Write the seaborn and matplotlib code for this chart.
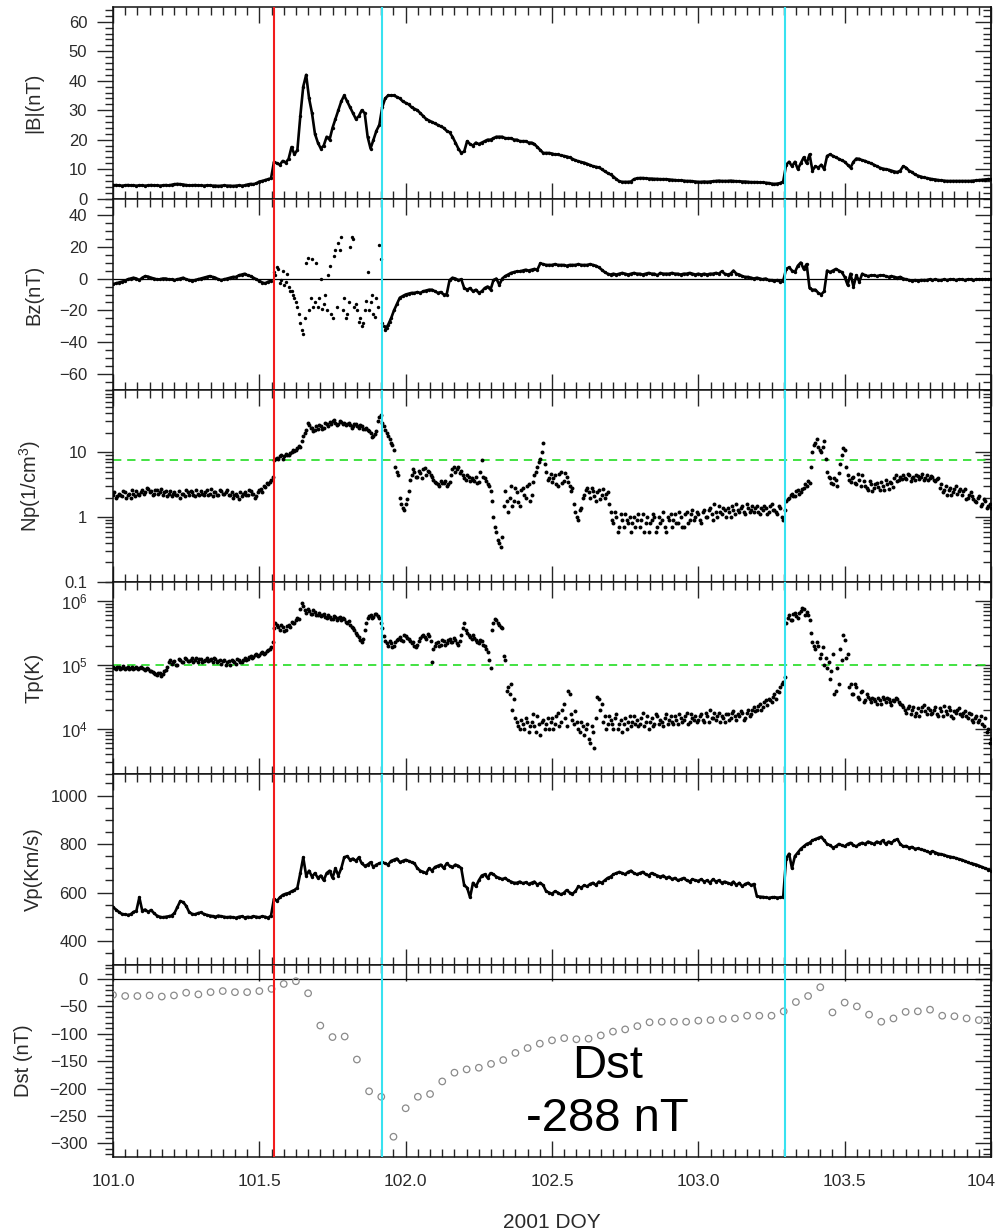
import numpy as np
import pandas as pd
import matplotlib
matplotlib.use("Agg")
import matplotlib.pyplot as plt
from matplotlib.ticker import (MultipleLocator, FixedLocator, NullFormatter,
                               FixedFormatter)
from matplotlib.transforms import ScaledTranslation
import seaborn as sns

# ---------------------------------------------------------------------------
# Solar-wind and geomagnetic data, 2001 DOY 101-104
# Main samples every 0.01 day; the noisy plasma moments also have
# intermediate samples at the half steps.
# ---------------------------------------------------------------------------
doy = np.linspace(101.0, 104.0, 301)
doy_half = np.linspace(101.005, 103.995, 300)

b_mag = [
    4.5, 4.6, 4.5, 4.4, 4.5, 4.6, 4.5, 4.5, 4.4, 4.5,
    4.5, 4.4, 4.5, 4.6, 4.5, 4.5, 4.4, 4.5, 4.6, 4.5,
    4.7, 4.9, 5.0, 4.9, 4.8, 4.6, 4.5, 4.5, 4.6, 4.5,
    4.5, 4.4, 4.5, 4.5, 4.4, 4.4, 4.3, 4.4, 4.5, 4.4,
    4.4, 4.3, 4.4, 4.5, 4.4, 4.5, 4.8, 5.0, 4.9, 5.2,
    5.8, 6.0, 6.3, 6.6, 6.9, 12.5, 12.0, 11.5, 12.8, 12.2,
    13.5, 17.5, 15.0, 16.5, 28.0, 38.0, 42.0, 34.0, 29.0, 22.0,
    19.0, 17.0, 18.0, 21.0, 20.0, 24.0, 27.0, 30.0, 33.0, 35.0,
    33.0, 31.0, 29.0, 27.0, 28.0, 30.0, 29.0, 21.0, 17.0, 20.0,
    23.0, 25.0, 31.0, 34.0, 35.0, 35.0, 35.0, 34.5, 34.0, 33.0,
    32.5, 32.0, 31.0, 30.5, 30.0, 29.0, 28.0, 27.0, 26.5, 26.0,
    25.5, 25.0, 24.5, 24.0, 23.0, 22.5, 21.0, 19.0, 17.0, 15.5,
    16.0, 19.5, 18.5, 18.0, 19.0, 18.5, 19.0, 19.5, 20.0, 20.0,
    20.5, 21.0, 21.0, 21.0, 20.5, 20.5, 20.5, 20.0, 20.0, 19.5,
    19.5, 19.5, 19.0, 19.0, 18.5, 17.5, 16.5, 15.5, 15.5, 15.5,
    15.3, 15.0, 15.0, 14.7, 14.5, 14.3, 14.0, 13.5, 13.0, 12.7,
    12.4, 12.2, 11.8, 11.4, 11.0, 10.8, 10.6, 10.0, 9.3, 8.7,
    8.2, 7.5, 6.6, 5.9, 5.7, 5.7, 5.7, 5.8, 6.6, 6.9,
    7.0, 7.0, 6.9, 6.8, 6.8, 6.7, 6.7, 6.6, 6.6, 6.6,
    6.5, 6.4, 6.3, 6.2, 6.2, 6.1, 6.0, 6.0, 5.9, 5.8,
    5.7, 5.7, 5.8, 5.7, 5.8, 5.9, 6.0, 6.1, 6.0, 6.0,
    6.0, 6.1, 6.0, 5.9, 5.9, 5.8, 5.8, 5.7, 5.6, 5.6,
    5.6, 5.5, 5.5, 5.4, 5.3, 5.1, 5.0, 5.1, 5.3, 5.8,
    11.5, 12.5, 11.0, 12.5, 10.0, 12.0, 14.0, 12.0, 15.0, 9.5,
    11.0, 10.5, 11.5, 10.0, 14.5, 15.0, 14.5, 14.0, 13.5, 13.0,
    12.5, 11.5, 10.5, 12.5, 13.6, 13.5, 13.0, 12.8, 12.3, 12.0,
    11.5, 11.0, 10.5, 10.2, 10.0, 9.8, 9.5, 9.2, 9.0, 9.5,
    11.0, 10.5, 9.5, 9.0, 8.2, 7.8, 7.5, 7.2, 7.0, 6.8,
    6.6, 6.5, 6.3, 6.2, 6.1, 6.0, 6.0, 6.0, 6.0, 6.0,
    6.0, 6.0, 6.0, 6.0, 6.1, 6.2, 6.3, 6.4, 6.5, 6.6, 6.6,
]

bz = [
    -3.5, -3.0, -2.5, -2.0, -1.5, -0.5, 0.0, 0.5, 0.0, -1.0,
    0.5, 1.5, 1.2, 0.5, 0.0, -0.5, -0.5, 0.0, 0.0, -0.5,
    -0.5, -1.0, -0.5, 0.0, 0.5, -0.5, -1.0, -1.5, -1.0, -0.5,
    0.0, 0.5, 1.0, 1.5, 1.0, 0.5, -0.5, -1.0, -0.5, 0.0,
    0.5, 1.0, 1.0, 2.0, 2.5, 3.0, 2.0, 1.5, 0.5, -0.5,
    -1.5, -2.5, -3.0, -2.0, -1.5, 4.0, 7.0, -3.0, 5.0, -2.0,
    -5.0, -8.0, -12.0, -18.0, -28.0, -35.0, 10.0, -20.0, 12.0, -15.0,
    -18.0, 0.0, -16.0, -20.0, 8.0, -25.0, 18.0, 22.0, 26.0, -12.0,
    -22.0, 20.0, 25.0, -16.0, -27.0, -30.0, -20.0, 4.0, -15.0, -22.0,
    -12.0, 21.0, -28.0, -32.0, -29.0, -25.0, -20.0, -16.0, -12.0, -11.0,
    -10.0, -9.5, -9.0, -9.0, -8.5, -9.0, -8.0, -7.5, -7.0, -7.0,
    -8.0, -9.0, -8.5, -10.0, -10.0, -1.0, 0.5, 0.0, -1.0, -0.5,
    -6.0, -7.0, -6.0, -8.0, -7.0, -9.0, -8.0, -6.0, -5.0, -7.0,
    -1.0, 0.0, -4.0, 0.0, 1.5, 2.5, 3.5, 4.0, 4.5, 4.5,
    5.0, 5.5, 5.0, 5.5, 6.0, 5.5, 9.5, 9.0, 8.5, 8.5,
    8.5, 9.0, 8.5, 8.5, 8.5, 8.0, 8.5, 8.5, 8.5, 9.0,
    8.5, 8.5, 8.5, 9.0, 8.5, 8.0, 7.0, 5.5, 4.0, 3.0,
    2.5, 3.0, 2.5, 3.0, 3.5, 3.0, 2.5, 3.0, 3.5, 3.0,
    3.0, 2.5, 3.0, 3.5, 3.0, 3.0, 2.0, 3.5, 3.0, 3.0,
    3.0, 3.5, 3.0, 3.0, 2.5, 3.0, 3.0, 3.5, 3.0, 2.5,
    3.0, 2.5, 3.0, 2.5, 3.0, 3.0, 3.5, 3.0, 4.5, 3.0,
    2.5, 3.0, 5.0, 3.0, 2.5, 1.5, 1.0, 1.0, 0.5, 0.0,
    0.5, 0.0, -0.5, 0.0, -1.0, -1.0, -1.5, -1.0, -2.0, -1.5,
    6.0, 7.0, 5.0, 4.0, 8.0, 10.0, 6.0, 9.0, -6.0, -7.0,
    -7.0, -9.0, -10.0, -8.0, 5.0, 4.0, 5.0, 6.0, 5.0, 4.0,
    1.0, -4.0, 3.0, -5.0, 2.0, -2.0, 3.0, 2.0, 1.5, 2.0,
    2.0, 1.5, 2.0, 2.0, 1.5, 1.0, 1.5, 1.0, 0.5, 1.0,
    0.0, -0.5, -1.0, -1.5, -1.0, -1.5, -1.0, -1.0, -1.0, -0.5,
    -1.0, -0.5, -1.0, -1.0, -0.5, -1.0, -0.5, -0.5, -1.0, -0.5,
    -0.5, -1.0, -0.5, -0.5, -1.0, -0.5, -0.5, -0.5, -0.5, -0.5, -0.5,
]

# Extra Bz samples inside the sheath (half steps, 101.555-101.945)
bz_sheath_doy = np.linspace(101.555, 101.945, 40)
bz_sheath = [
    2.0, 6.0, -1.0, -4.0, 3.0,
    -8.0, -10.0, -15.0, -22.0, -32.0, -25.0, 13.0, -12.0, -18.0, 10.0,
    -12.0, -19.0, -10.0, 2.0, -22.0, 14.0, -18.0, 18.0, -20.0, -25.0,
    -15.0, 26.0, -18.0, -20.0, -25.0, -28.0, -14.0, -20.0, -10.0, -24.0,
    -18.0, 12.0, -30.0, -31.0, -27.0,
]

np_density = [
    2.2, 2.0, 2.3, 2.1, 2.4, 2.2, 2.0, 2.3, 2.5, 2.2,
    2.6, 2.4, 2.7, 2.5, 2.3, 2.6, 2.4, 2.2, 2.5, 2.3,
    2.1, 2.4, 2.2, 2.0, 2.3, 2.6, 2.2, 2.4, 2.1, 2.3,
    2.5, 2.2, 2.6, 2.3, 2.1, 2.4, 2.2, 2.5, 2.3, 2.6,
    2.2, 2.0, 2.3, 1.9, 2.1, 2.4, 2.2, 2.5, 2.3, 2.1,
    2.6, 2.4, 2.9, 3.2, 3.8, 7.5, 8.2, 8.8, 8.0, 9.5,
    9.0, 10.0, 10.5, 11.5, 12.0, 18.0, 22.0, 26.0, 24.0, 22.0,
    23.0, 25.0, 24.0, 27.0, 29.0, 30.0, 28.0, 27.0, 29.0, 28.0,
    27.0, 26.0, 25.0, 27.0, 24.0, 25.0, 23.0, 22.0, 20.0, 18.0,
    21.0, 35.0, 28.0, 22.0, 18.0, 14.0, 11.0, 5.0, 2.0, 1.4,
    1.6, 2.5, 4.5, 5.0, 4.2, 4.8, 5.5, 4.5, 5.0, 4.2,
    3.5, 3.2, 3.6, 3.4, 3.0, 3.5, 5.5, 5.0, 6.0, 5.2,
    4.0, 4.5, 3.6, 3.8, 4.2, 3.5, 7.5, 4.0, 3.2, 2.5,
    1.0, 0.6, 0.4, 0.5, 2.5, 1.2, 3.0, 1.8, 2.4, 1.5,
    2.8, 2.0, 3.2, 2.2, 4.5, 6.0, 8.0, 14.0, 5.0, 4.0,
    3.5, 4.5, 3.0, 5.0, 3.6, 4.2, 3.0, 2.8, 1.2, 0.9,
    1.4, 2.2, 2.8, 2.0, 2.5, 1.8, 2.6, 2.2, 2.0, 2.4,
    1.2, 0.8, 1.0, 0.7, 0.9, 1.1, 0.8, 0.6, 1.0, 0.9,
    0.7, 1.1, 0.8, 0.6, 0.9, 1.0, 0.7, 0.8, 1.2, 0.6,
    0.9, 0.7, 1.1, 0.8, 1.0, 0.7, 1.2, 0.9, 1.3, 1.0,
    1.1, 0.8, 1.3, 1.0, 1.4, 0.9, 1.2, 1.5, 1.1, 1.3,
    1.4, 1.0, 1.3, 1.6, 1.2, 1.5, 1.1, 1.4, 1.3, 1.2,
    1.5, 1.1, 1.3, 1.4, 1.2, 1.6, 1.3, 1.1, 1.4, 0.9,
    1.8, 2.0, 2.3, 2.1, 2.6, 2.4, 2.8, 3.0, 3.4, 10.0,
    14.0, 12.0, 10.0, 15.0, 5.0, 4.0, 3.2, 3.8, 4.8, 9.0,
    11.0, 4.5, 3.5, 4.2, 3.2, 3.8, 4.5, 3.0, 2.6, 3.2,
    2.8, 3.4, 2.6, 3.0, 3.8, 2.7, 3.3, 4.0, 3.6, 4.2,
    4.4, 3.9, 4.5, 4.0, 3.8, 4.3, 4.1, 3.7, 4.4, 4.0,
    4.2, 3.6, 4.0, 3.2, 2.6, 2.2, 2.8, 2.4, 3.0, 2.5,
    2.2, 2.7, 2.0, 2.4, 1.9, 1.7, 2.1, 1.6, 1.8, 1.5, 1.4,
]

np_density_half = [
    2.4, 2.1, 2.2, 2.5, 2.0, 2.3, 2.6, 2.1, 2.3, 2.4,
    2.3, 2.8, 2.4, 2.2, 2.6, 2.3, 2.7, 2.4, 2.1, 2.5,
    2.3, 2.2, 2.5, 2.3, 2.1, 2.4, 2.5, 2.2, 2.6, 2.2,
    2.3, 2.4, 2.2, 2.7, 2.4, 2.2, 2.6, 2.3, 2.4, 2.2,
    2.4, 2.2, 2.1, 2.4, 2.3, 2.2, 2.6, 2.3, 2.0, 2.4,
    2.7, 3.0, 3.4, 3.5, 4.2, 8.0, 7.8, 9.2, 8.6, 9.0,
    9.8, 10.8, 11.0, 12.5, 15.0, 20.0, 28.0, 24.0, 21.0, 25.0,
    26.0, 23.0, 28.0, 25.0, 27.0, 31.0, 26.0, 30.0, 27.0, 26.0,
    28.0, 24.0, 27.0, 25.0, 26.0, 23.0, 24.0, 21.0, 17.0, 19.0,
    30.0, 38.0, 25.0, 20.0, 16.0, 13.0, 6.0, 4.5, 1.6, 1.3,
    1.9, 3.8, 5.5, 4.2, 5.2, 4.0, 5.8, 5.2, 4.4, 3.8,
    3.4, 3.0, 3.3, 3.6, 3.2, 4.5, 6.0, 5.5, 4.8, 4.4,
    3.8, 4.2, 4.0, 3.6, 3.4, 5.0, 4.2, 3.6, 3.0, 1.8,
    0.7, 0.45, 0.35, 1.5, 1.8, 2.0, 1.5, 2.8, 1.7, 2.6,
    2.2, 3.0, 1.8, 3.5, 5.0, 7.0, 10.0, 6.5, 3.8, 4.6,
    4.0, 3.2, 4.6, 3.4, 4.8, 3.5, 2.5, 1.6, 1.0, 1.3,
    2.0, 2.6, 2.4, 2.8, 2.1, 2.4, 1.9, 2.7, 2.3, 1.6,
    0.9, 1.2, 0.6, 1.1, 0.7, 0.9, 1.0, 0.8, 0.7, 1.1,
    0.9, 0.6, 1.0, 0.8, 1.1, 0.6, 1.0, 0.9, 0.7, 1.0,
    1.1, 0.9, 0.8, 1.2, 0.7, 1.1, 0.8, 1.1, 0.9, 1.2,
    0.9, 1.2, 1.0, 1.3, 1.1, 1.6, 1.0, 1.2, 1.4, 1.0,
    1.2, 1.5, 1.1, 1.3, 1.4, 1.2, 1.6, 1.2, 1.5, 1.4,
    1.2, 1.4, 1.5, 1.1, 1.5, 1.3, 1.2, 1.5, 1.0, 1.3,
    1.9, 2.2, 2.1, 2.5, 2.3, 2.7, 3.2, 3.6, 6.0, 13.0,
    16.0, 11.0, 12.0, 8.0, 4.2, 3.4, 4.0, 3.0, 6.5, 11.5,
    6.0, 3.8, 4.0, 3.4, 4.6, 3.0, 3.6, 2.8, 3.6, 2.5,
    3.2, 2.9, 3.5, 2.6, 3.2, 3.5, 2.9, 4.4, 3.8, 3.9,
    4.0, 4.6, 3.6, 4.2, 4.4, 3.9, 4.6, 4.0, 3.8, 4.3,
    3.8, 3.9, 2.8, 2.4, 3.0, 2.6, 2.2, 2.7, 2.3, 2.7,
    2.5, 1.9, 2.2, 2.1, 1.8, 2.0, 1.5, 1.9, 1.4, 1.6,
]

tp = [
    9.2e4, 8.8e4, 9.5e4, 9.0e4, 8.6e4, 9.3e4, 9.0e4, 8.7e4, 9.4e4, 8.9e4,
    9.1e4, 8.5e4, 8.8e4, 8.0e4, 7.5e4, 7.0e4, 7.6e4, 7.2e4, 8.5e4, 1.1e5,
    1.05e5, 1.15e5, 1.0e5, 1.2e5, 1.1e5, 1.25e5, 1.15e5, 1.3e5, 1.2e5, 1.1e5,
    1.25e5, 1.15e5, 1.3e5, 1.2e5, 1.1e5, 1.25e5, 1.15e5, 1.05e5, 1.2e5, 1.1e5,
    1.0e5, 1.15e5, 1.05e5, 1.2e5, 1.1e5, 1.3e5, 1.25e5, 1.4e5, 1.35e5, 1.5e5,
    1.45e5, 1.6e5, 1.55e5, 1.7e5, 1.9e5, 3.8e5, 4.2e5, 3.5e5, 4.0e5, 3.6e5,
    4.3e5, 4.8e5, 4.5e5, 5.5e5, 7.5e5, 8.5e5, 6.5e5, 7.0e5, 6.2e5, 6.8e5,
    6.0e5, 5.8e5, 6.3e5, 5.5e5, 5.7e5, 5.2e5, 5.6e5, 5.4e5, 5.0e5, 5.3e5,
    4.6e5, 4.2e5, 3.8e5, 3.2e5, 2.8e5, 2.3e5, 3.5e5, 5.5e5, 6.0e5, 5.7e5,
    6.2e5, 5.5e5, 3.8e5, 2.4e5, 2.0e5, 2.2e5, 2.0e5, 2.5e5, 2.8e5, 2.4e5,
    2.9e5, 2.6e5, 2.2e5, 2.0e5, 2.1e5, 2.7e5, 3.0e5, 2.6e5, 2.9e5, 1.1e5,
    2.0e5, 2.3e5, 2.1e5, 2.4e5, 2.2e5, 2.6e5, 2.3e5, 2.5e5, 2.1e5, 3.0e5,
    4.5e5, 3.2e5, 2.8e5, 3.0e5, 2.5e5, 2.2e5, 2.4e5, 2.0e5, 1.6e5, 0.9e5,
    4.5e5, 5.0e5, 4.2e5, 3.8e5, 1.2e5, 4.5e4, 5.0e4, 3.0e4, 1.3e4, 1.0e4,
    1.2e4, 1.5e4, 0.9e4, 1.3e4, 1.1e4, 1.6e4, 0.8e4, 1.4e4, 1.2e4, 1.0e4,
    1.5e4, 1.2e4, 1.8e4, 1.3e4, 2.5e4, 1.1e4, 3.5e4, 1.4e4, 1.9e4, 1.0e4,
    1.3e4, 0.8e4, 1.2e4, 0.6e4, 0.9e4, 1.5e4, 3.0e4, 2.5e4, 1.6e4, 1.2e4,
    1.4e4, 1.0e4, 1.7e4, 1.2e4, 0.9e4, 1.5e4, 1.3e4, 1.1e4, 1.6e4, 1.4e4,
    1.2e4, 1.8e4, 1.3e4, 1.0e4, 1.5e4, 1.2e4, 1.6e4, 1.4e4, 1.1e4, 1.7e4,
    1.4e4, 1.3e4, 1.6e4, 1.2e4, 1.5e4, 1.4e4, 1.8e4, 1.3e4, 1.5e4, 1.6e4,
    1.4e4, 1.7e4, 1.3e4, 1.6e4, 2.0e4, 1.5e4, 1.4e4, 1.8e4, 1.6e4, 1.3e4,
    1.7e4, 1.5e4, 1.9e4, 1.4e4, 1.6e4, 1.8e4, 1.5e4, 2.0e4, 1.7e4, 2.2e4,
    2.0e4, 2.5e4, 2.2e4, 2.8e4, 3.0e4, 2.6e4, 3.5e4, 4.0e4, 4.5e4, 5.5e4,
    4.5e5, 6.0e5, 5.0e5, 6.5e5, 5.5e5, 7.0e5, 7.5e5, 6.8e5, 5.0e5, 2.3e5,
    1.8e5, 2.0e5, 1.5e5, 1.0e5, 0.9e5, 6.0e4, 1.5e5, 4.0e4, 5.0e4, 1.2e5,
    2.5e5, 1.5e5, 5.0e4, 3.5e4, 4.5e4, 3.0e4, 4.0e4, 2.8e4, 3.2e4, 2.6e4,
    3.0e4, 2.5e4, 2.8e4, 3.2e4, 2.6e4, 2.9e4, 2.4e4, 2.7e4, 3.0e4, 2.5e4,
    2.2e4, 1.8e4, 2.3e4, 2.0e4, 1.6e4, 2.1e4, 1.9e4, 2.4e4, 1.7e4, 2.0e4,
    1.8e4, 2.2e4, 1.6e4, 1.9e4, 2.3e4, 1.7e4, 2.0e4, 1.5e4, 1.8e4, 2.1e4,
    1.6e4, 1.9e4, 1.5e4, 1.7e4, 1.3e4, 1.6e4, 1.4e4, 1.2e4, 1.5e4, 1.0e4, 0.7e4,
]

tp_half = [
    8.9e4, 9.3e4, 8.7e4, 9.6e4, 9.1e4, 8.8e4, 9.4e4, 9.1e4, 8.6e4, 9.2e4,
    8.7e4, 8.9e4, 8.2e4, 7.7e4, 7.2e4, 7.4e4, 6.8e4, 8.0e4, 9.5e4, 1.2e5,
    1.1e5, 1.0e5, 1.25e5, 1.1e5, 1.3e5, 1.15e5, 1.2e5, 1.1e5, 1.3e5, 1.25e5,
    1.1e5, 1.2e5, 1.15e5, 1.25e5, 1.3e5, 1.1e5, 1.2e5, 1.15e5, 1.0e5, 1.15e5,
    1.2e5, 1.1e5, 1.25e5, 1.1e5, 1.2e5, 1.2e5, 1.35e5, 1.3e5, 1.45e5, 1.4e5,
    1.55e5, 1.5e5, 1.65e5, 1.8e5, 2.3e5, 4.5e5, 3.9e5, 4.3e5, 3.4e5, 4.1e5,
    4.0e5, 4.6e5, 5.0e5, 5.2e5, 9.5e5, 7.2e5, 7.5e5, 6.4e5, 7.2e5, 6.0e5,
    6.5e5, 6.1e5, 5.7e5, 6.0e5, 5.3e5, 5.9e5, 5.1e5, 5.7e5, 5.5e5, 4.8e5,
    4.9e5, 4.0e5, 3.5e5, 3.0e5, 2.5e5, 2.6e5, 4.5e5, 5.8e5, 5.5e5, 6.3e5,
    5.9e5, 4.5e5, 2.9e5, 2.2e5, 2.4e5, 1.9e5, 2.3e5, 2.6e5, 2.5e5, 3.0e5,
    2.7e5, 2.4e5, 2.3e5, 1.9e5, 2.4e5, 2.9e5, 2.8e5, 3.1e5, 2.4e5, 1.8e5,
    2.2e5, 2.0e5, 2.5e5, 2.1e5, 2.5e5, 2.3e5, 2.7e5, 2.2e5, 2.4e5, 3.8e5,
    3.6e5, 3.0e5, 2.6e5, 2.7e5, 2.3e5, 2.5e5, 2.1e5, 1.8e5, 1.2e5, 3.5e5,
    5.2e5, 4.6e5, 4.0e5, 1.4e5, 4.0e4, 3.5e4, 2.0e4, 1.5e4, 1.1e4, 1.4e4,
    1.0e4, 1.3e4, 1.1e4, 1.7e4, 0.9e4, 1.2e4, 1.3e4, 1.0e4, 1.5e4, 1.3e4,
    1.0e4, 1.6e4, 1.1e4, 2.0e4, 1.5e4, 4.0e4, 1.7e4, 1.2e4, 1.3e4, 0.9e4,
    1.1e4, 1.0e4, 0.7e4, 1.1e4, 0.5e4, 3.2e4, 2.0e4, 1.3e4, 1.0e4, 1.6e4,
    1.2e4, 1.5e4, 1.0e4, 1.4e4, 1.2e4, 1.0e4, 1.6e4, 1.3e4, 1.2e4, 1.1e4,
    1.5e4, 1.1e4, 1.6e4, 1.3e4, 1.1e4, 1.7e4, 1.2e4, 1.3e4, 1.5e4, 1.2e4,
    1.6e4, 1.2e4, 1.4e4, 1.7e4, 1.3e4, 1.6e4, 1.2e4, 1.7e4, 1.4e4, 1.3e4,
    1.6e4, 1.4e4, 1.8e4, 1.3e4, 1.5e4, 1.8e4, 1.6e4, 1.3e4, 1.5e4, 1.7e4,
    1.4e4, 1.8e4, 1.6e4, 1.7e4, 1.9e4, 1.4e4, 1.8e4, 1.6e4, 2.0e4, 1.9e4,
    2.3e4, 2.0e4, 2.6e4, 2.4e4, 2.8e4, 3.2e4, 3.0e4, 3.8e4, 5.0e4, 6.5e4,
    5.5e5, 5.0e5, 6.2e5, 5.8e5, 6.5e5, 7.8e5, 6.0e5, 6.0e5, 3.2e5, 2.0e5,
    2.3e5, 1.3e5, 1.9e5, 1.3e5, 1.1e5, 8.0e4, 3.5e4, 9.0e4, 1.8e5, 3.0e5,
    1.3e5, 4.5e4, 3.5e4, 5.0e4, 3.2e4, 3.8e4, 2.6e4, 3.5e4, 2.9e4, 3.1e4,
    2.7e4, 3.1e4, 2.5e4, 2.9e4, 3.1e4, 2.6e4, 2.8e4, 3.1e4, 2.6e4, 2.4e4,
    2.0e4, 2.1e4, 1.7e4, 2.2e4, 1.8e4, 1.6e4, 2.2e4, 1.9e4, 2.1e4, 1.7e4,
    2.0e4, 1.7e4, 2.1e4, 1.6e4, 1.9e4, 2.2e4, 1.6e4, 1.9e4, 2.0e4, 1.7e4,
    1.8e4, 1.6e4, 1.8e4, 1.4e4, 1.5e4, 1.3e4, 1.6e4, 1.1e4, 0.9e4, 0.6e4,
]

vp = [
    540, 530, 520, 512, 510, 508, 510, 520, 525, 580,
    525, 530, 520, 528, 515, 505, 500, 498, 500, 502,
    505, 515, 540, 565, 560, 545, 520, 512, 510, 515,
    518, 512, 508, 505, 503, 500, 505, 502, 500, 498,
    500, 498, 496, 500, 502, 497, 500, 498, 502, 500,
    498, 502, 500, 496, 505, 575, 565, 580, 590, 595,
    598, 605, 610, 620, 680, 745, 670, 690, 665, 680,
    660, 670, 650, 680, 690, 660, 700, 670, 700, 745,
    750, 735, 740, 730, 745, 720, 710, 715, 725, 705,
    715, 720, 725, 720, 715, 730, 735, 740, 725, 730,
    735, 730, 725, 720, 700, 690, 685, 680, 700, 690,
    705, 710, 715, 700, 720, 710, 705, 715, 710, 700,
    630, 620, 580, 640, 625, 650, 670, 675, 660, 680,
    675, 665, 660, 655, 660, 650, 645, 640, 640, 645,
    638, 642, 635, 640, 645, 632, 640, 630, 605, 600,
    595, 605, 600, 592, 598, 610, 600, 595, 605, 625,
    620, 630, 625, 635, 640, 630, 645, 640, 650, 660,
    665, 675, 680, 685, 680, 675, 685, 690, 680, 675,
    680, 685, 675, 670, 680, 675, 670, 665, 670, 660,
    665, 655, 660, 650, 655, 660, 650, 645, 655, 650,
    648, 655, 645, 650, 640, 655, 645, 650, 640, 645,
    640, 635, 645, 630, 640, 625, 635, 640, 630, 635,
    585, 583, 582, 580, 578, 580, 581, 579, 580, 582,
    740, 760, 700, 750, 765, 780, 790, 800, 805, 815,
    820, 825, 830, 815, 800, 795, 785, 790, 800, 795,
    790, 800, 805, 795, 790, 800, 805, 800, 810, 805,
    800, 810, 805, 815, 800, 810, 805, 815, 820, 800,
    790, 792, 785, 788, 780, 782, 778, 775, 770, 765,
    770, 765, 760, 758, 755, 750, 748, 745, 742, 738,
    735, 730, 725, 720, 718, 715, 710, 705, 700, 695, 690,
]

# Hourly Dst index
dst_doy = np.linspace(101.0, 104.0, 73)
dst = [
    -29, -31, -31, -30, -32, -30, -25, -28, -24, -22, -24, -24, -22, -18, -9, -4,
    -26, -85, -106, -105, -147, -205, -215, -288, -236, -215, -210, -187, -171,
    -165, -162, -155,
    -148, -135, -126, -118, -112, -108, -110, -109, -103, -96, -92, -86, -79,
    -78, -78, -78,
    -76, -75, -73, -72, -67, -67, -67, -59, -42, -31, -15, -61, -43, -50, -65, -78,
    -72, -60, -59, -56, -67, -68, -72, -75, -75,
]

# Event boundaries (shock, ICME start, ICME end) and reference levels
shock_time = 101.55
boundary_times = [101.92, 103.295]
np_threshold = 7.5
tp_threshold = 1.0e5

x_ticks = [101.0, 101.5, 102.0, 102.5, 103.0, 103.5, 104.0]
x_ticklabels = ["101.0", "101.5", "102.0", "102.5", "103.0", "103.5", "104"]

# ---------------------------------------------------------------------------
sns.set_style("ticks")
plt.rcParams["font.family"] = ["Liberation Sans", "DejaVu Sans"]
plt.rcParams["mathtext.fontset"] = "custom"
plt.rcParams["mathtext.rm"] = "Liberation Sans"
plt.rcParams["axes.linewidth"] = 1.1

TEXT = "#2a2a2a"
W, H = 997, 1232
fig = plt.figure(figsize=(W / 100, H / 100), dpi=100)
gs = fig.add_gridspec(6, 1, left=113 / W, right=991 / W,
                      top=1 - 7 / H, bottom=1 - 1157 / H, hspace=0)
axes = [fig.add_subplot(gs[0])]
for i in range(1, 6):
    axes.append(fig.add_subplot(gs[i], sharex=axes[0]))
ax_b, ax_bz, ax_np, ax_tp, ax_vp, ax_dst = axes

DOT = dict(s=6, color="black", linewidth=0, legend=False, zorder=3)
CLOUD = dict(s=8, color="black", linewidth=0, legend=False, zorder=3)
TRACE = dict(color="black", lw=1.9, estimator=None, sort=False,
             legend=False, zorder=3)

# |B| and Vp: continuous traces
b_df = pd.DataFrame({"doy": doy, "value": b_mag})
vp_df = pd.DataFrame({"doy": doy, "value": vp})
for ax, df in ((ax_b, b_df), (ax_vp, vp_df)):
    sns.lineplot(data=df, x="doy", y="value", ax=ax, **TRACE)
    sns.scatterplot(data=df, x="doy", y="value", ax=ax, **DOT)

# Bz: trace outside the sheath, scattered samples inside it
bz_df = pd.DataFrame({"doy": doy, "value": bz})
quiet_before = bz_df[bz_df["doy"] < 101.545]
quiet_after = bz_df[bz_df["doy"] > 101.925]
for seg in (quiet_before, quiet_after):
    sns.lineplot(data=seg, x="doy", y="value", ax=ax_bz, **TRACE)
sns.scatterplot(data=bz_df, x="doy", y="value", ax=ax_bz, **DOT)
sns.scatterplot(data=pd.DataFrame({"doy": bz_sheath_doy, "value": bz_sheath}),
                x="doy", y="value", ax=ax_bz, **DOT)

# Np and Tp: point clouds
for ax, main, half in ((ax_np, np_density, np_density_half),
                       (ax_tp, tp, tp_half)):
    df = pd.concat([pd.DataFrame({"doy": doy, "value": main}),
                    pd.DataFrame({"doy": doy_half, "value": half})])
    sns.scatterplot(data=df, x="doy", y="value", ax=ax, **CLOUD)

dst_df = pd.DataFrame({"doy": dst_doy, "value": dst})
sns.scatterplot(data=dst_df, x="doy", y="value", ax=ax_dst, s=22,
                facecolor="none", edgecolor="#8a8a8a", linewidth=0.9,
                legend=False, zorder=3)

ident = (lambda v: v, lambda v: v)


def style_y(ax, lim, major, minor, labels=None, log=False, label="",
            label_x=-0.0797):
    if log:
        ax.set_yscale("log")
    ax.set_ylim(*lim)
    ax.yaxis.set_major_locator(FixedLocator(major))
    ax.yaxis.set_minor_locator(FixedLocator(minor))
    ax.yaxis.set_minor_formatter(NullFormatter())
    if labels is not None:
        ax.yaxis.set_major_formatter(FixedFormatter(labels))
    ax.tick_params(axis="y", which="both", direction="out", left=True,
                   right=False, labelsize=12, labelcolor=TEXT, pad=7)
    ax.tick_params(axis="y", which="major", length=11.5, width=1.0)
    ax.tick_params(axis="y", which="minor", length=5.8, width=1.0)
    ax.set_ylabel(label, fontsize=14.5, color=TEXT)
    ax.yaxis.set_label_coords(label_x, 0.5)
    sec = ax.secondary_yaxis("right", functions=ident)
    sec.yaxis.set_major_locator(FixedLocator(major))
    sec.yaxis.set_minor_locator(FixedLocator(minor))
    sec.yaxis.set_major_formatter(NullFormatter())
    sec.yaxis.set_minor_formatter(NullFormatter())
    sec.tick_params(axis="y", which="both", direction="in")
    sec.tick_params(axis="y", which="major", length=11.5, width=1.0)
    sec.tick_params(axis="y", which="minor", length=5.8, width=1.0)


def log_minor(lo_exp, hi_exp):
    return [m * 10.0 ** e for e in range(lo_exp, hi_exp) for m in range(2, 10)]


style_y(ax_b, (0, 65), np.arange(0, 61, 10), np.arange(0, 65, 2),
        label="|B|(nT)")
style_y(ax_bz, (-70, 50), np.arange(-60, 41, 20), np.arange(-70, 51, 5),
        label="Bz(nT)")
style_y(ax_np, (0.1, 90), [0.1, 1, 10], log_minor(-1, 2),
        labels=["0.1", "1", "10"], log=True,
        label="Np(1/cm$^{\\mathregular{3}}$)")
style_y(ax_tp, (2e3, 2e6), [1e4, 1e5, 1e6], log_minor(3, 7),
        labels=["$\\mathregular{10^{4}}$", "$\\mathregular{10^{5}}$",
                "$\\mathregular{10^{6}}$"], log=True, label="Tp(K)")
style_y(ax_vp, (300, 1090), np.arange(400, 1001, 200),
        np.arange(300, 1090, 50), label="Vp(Km/s)")
style_y(ax_dst, (-325, 25), np.arange(-300, 1, 50), np.arange(-320, 25, 10),
        label="Dst (nT)", label_x=-0.0911)

for i, ax in enumerate(axes):
    ax.set_xlim(101.0, 104.0)
    ax.xaxis.set_major_locator(FixedLocator(x_ticks))
    ax.xaxis.set_minor_locator(MultipleLocator(1 / 24))
    ax.tick_params(axis="x", which="both", direction="in", top=True,
                   bottom=True, labelsize=12.5, labelcolor=TEXT, pad=12)
    ax.tick_params(axis="x", which="major", length=11.5, width=1.0)
    ax.tick_params(axis="x", which="minor", length=5.8, width=1.0)
    ax.set_xlabel("")
    if i < 5:
        ax.tick_params(axis="x", labelbottom=False)
    else:
        ax.xaxis.set_major_formatter(FixedFormatter(x_ticklabels))
    for spine in ax.spines.values():
        spine.set_visible(True)
        spine.set_color("#111111")
    ax.axvline(shock_time, color="#f21c1c", lw=1.5, zorder=4)
    for bt in boundary_times:
        ax.axvline(bt, color="#38e2f0", lw=1.5, zorder=4)

# The last time label sits against the right edge of the figure
last = ax_dst.get_xticklabels()[-1]
last.set_horizontalalignment("right")
last.set_transform(last.get_transform()
                   + ScaledTranslation(0.05, 0, fig.dpi_scale_trans))

# Reference levels
ax_bz.axhline(0, color="black", lw=0.9, zorder=2)
ax_dst.axhline(0, color="black", lw=0.9, zorder=2)
ax_np.axhline(np_threshold, color="#22dd22", lw=1.2, ls=(0, (5, 3.5)), zorder=2)
ax_tp.axhline(tp_threshold, color="#22dd22", lw=1.2, ls=(0, (5, 3.5)), zorder=2)

# Storm peak annotation
dst_min = min(dst)
ax_dst.text(102.69, -207, f"Dst\n{dst_min} nT", ha="center", va="center",
            fontsize=34, color="black", linespacing=1.25)

fig.text(552 / W, 1 - 1222 / H, "2001 DOY", ha="center", va="center",
         fontsize=15, color=TEXT)

fig.savefig("out.png", dpi=100)
